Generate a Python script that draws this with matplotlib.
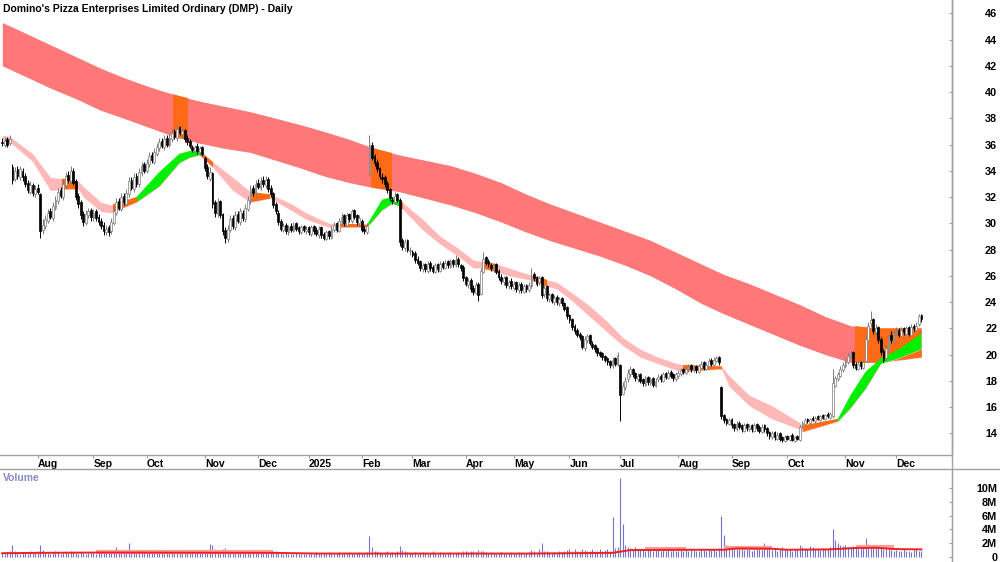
import numpy as np
import pandas as pd
import matplotlib
matplotlib.use("Agg")
import matplotlib.pyplot as plt
from matplotlib.lines import Line2D

plt.rcParams['font.family'] = ['Liberation Sans', 'DejaVu Sans']

TITLE = "Domino's Pizza Enterprises Limited Ordinary (DMP) - Daily"

# =============================================================================
# DATA
# =============================================================================

first_day = "2024-07-12"
last_day = "2025-12-15"
holidays = ["2024-12-25", "2024-12-26", "2025-01-01", "2025-01-27",
            "2025-04-18", "2025-04-21", "2025-04-25", "2025-06-09"]

opens = [
    36.2, 36.0, 36.4, 36.1, 34.3, 33.4, 34.1, 33.5, 34.0, 33.6, 33.1, 32.4, 32.9, 32.2,  # Jul 24
    32.7, 32.2, 29.5, 29.8, 30.2, 30.9, 30.4, 31.2, 31.7, 32.5, 32.0, 32.9, 33.7, 33.2, 34.0, 33.2, 32.1, 31.6, 30.7, 30.0, 30.6, 31.0,  # Aug
    30.4, 30.9, 30.5, 30.2, 29.9, 29.3, 29.7, 29.4, 30.0, 30.8, 31.7, 31.1, 32.1, 31.5, 32.2, 33.3, 32.6, 33.6, 33.0, 33.8, 34.5,  # Sep
    34.0, 34.5, 35.2, 34.7, 35.3, 35.7, 36.3, 35.8, 36.5, 36.0, 36.4, 37.0, 36.5, 37.3, 36.8, 37.1, 36.5, 36.3, 35.8, 35.5, 35.9, 35.4, 35.8,  # Oct
    35.0, 34.3, 33.4, 33.8, 31.6, 30.7, 31.7, 30.7, 29.5, 28.8, 29.5, 30.4, 29.7, 30.7, 30.1, 30.8, 30.3, 31.1, 31.7, 32.7, 32.2,  # Nov
    33.1, 32.7, 33.3, 32.9, 33.4, 32.7, 32.3, 31.5, 30.8, 30.2, 29.5, 29.9, 29.3, 29.8, 29.4, 30.0, 29.7, 29.3, 29.8, 29.4,  # Dec
    29.7, 29.2, 29.8, 29.5, 29.1, 29.7, 29.2, 28.8, 29.4, 28.9, 29.5, 30.0, 29.4, 30.1, 30.6, 29.9, 30.7, 30.2, 31.0, 30.6, 30.0,  # Jan 25
    30.2, 29.6, 29.3, 33.8, 36.0, 35.1, 34.7, 34.2, 33.5, 33.5, 33.1, 32.6, 31.8, 31.6, 32.2, 31.8, 28.7, 28.1, 28.7, 27.9,  # Feb
    27.8, 27.7, 27.3, 27.1, 26.5, 26.9, 26.4, 27.0, 26.7, 26.3, 26.9, 26.4, 27.0, 26.6, 27.1, 26.7, 27.2, 26.8, 27.3, 26.8, 26.7,  # Mar
    25.9, 25.3, 25.7, 25.1, 24.7, 25.4, 24.6, 26.3, 27.4, 27.1, 26.8, 26.5, 26.9, 26.4, 25.9, 25.5, 25.9, 25.2, 25.6,  # Apr
    25.1, 25.5, 24.9, 25.4, 24.8, 25.3, 24.9, 25.2, 26.1, 25.9, 25.5, 25.9, 24.6, 25.2, 24.2, 24.6, 24.0, 24.4, 23.9, 24.3, 23.9, 23.6,  # May
    23.0, 22.7, 22.2, 21.9, 21.6, 21.4, 20.5, 21.1, 21.5, 20.8, 20.7, 20.5, 20.2, 20.1, 19.9, 19.7, 19.5, 19.1, 19.7, 19.2,  # Jun
    19.2, 17.0, 17.5, 18.1, 18.5, 18.9, 18.6, 18.1, 18.5, 18.1, 17.7, 18.3, 17.8, 18.2, 17.6, 18.1, 18.4, 18.0, 18.6, 18.2, 18.7, 18.5, 18.1,  # Jul
    18.4, 18.5, 18.9, 18.6, 18.8, 19.2, 18.8, 19.1, 18.7, 19.0, 19.4, 18.9, 19.1, 19.6, 19.2, 19.5, 19.8, 17.5, 15.4, 15.1, 14.7,  # Aug
    15.1, 14.7, 14.3, 14.8, 14.6, 14.2, 14.7, 14.3, 14.6, 14.2, 14.7, 14.5, 14.1, 14.6, 14.4, 14.1, 13.7, 14.1, 13.6, 14.0, 13.7, 13.4,  # Sep
    13.8, 13.5, 13.9, 13.4, 13.8, 13.5, 14.5, 14.7, 15.1, 14.8, 15.2, 14.9, 15.3, 15.0, 15.4, 15.1, 15.5, 15.2, 15.3, 17.6, 18.1, 18.4, 18.8,  # Oct
    19.1, 19.4, 19.8, 20.2, 19.3, 18.9, 19.4, 19.0, 19.5, 21.1, 22.4, 22.7, 21.7, 22.1, 21.2, 20.3, 19.7, 20.4, 21.5, 21.0,  # Nov
    21.7, 21.9, 21.4, 22.0, 21.6, 22.1, 21.5, 22.2, 21.9, 22.3, 23.0,  # Dec
]

highs = [
    36.5, 36.6, 36.6, 36.7, 34.5, 34.3, 34.4, 34.4, 34.2, 33.8, 33.3, 33.2, 33.1, 32.9,
    33.0, 32.3, 30.3, 30.6, 31.1, 31.2, 31.6, 32.1, 32.7, 32.8, 33.3, 33.9, 34.0, 34.4, 34.2, 33.4, 32.3, 31.8, 30.9, 31.0, 31.2, 31.2,
    31.1, 31.1, 30.7, 30.4, 30.1, 29.9, 29.9, 30.4, 31.2, 31.9, 31.9, 32.3, 32.3, 32.6, 33.5, 33.5, 33.8, 33.8, 34.2, 34.7, 34.7,
    34.9, 35.4, 35.4, 35.7, 36.1, 36.5, 36.5, 36.7, 36.7, 36.8, 37.2, 37.2, 37.5, 37.4, 37.3, 37.2, 36.7, 36.4, 36.0, 36.0, 36.1, 35.9, 35.9,
    35.1, 34.5, 34.3, 33.9, 31.8, 31.9, 31.8, 30.8, 29.7, 29.9, 30.6, 30.6, 30.9, 30.9, 31.2, 31.0, 31.5, 32.1, 32.9, 32.9, 33.3,
    33.4, 33.5, 33.6, 33.6, 33.5, 32.9, 32.4, 31.6, 31.0, 30.3, 30.0, 30.0, 29.9, 30.0, 30.1, 30.1, 29.8, 29.9, 29.9, 29.8,
    29.8, 29.9, 29.9, 29.7, 29.8, 29.8, 29.3, 29.5, 29.5, 29.8, 30.1, 30.1, 30.4, 30.8, 30.7, 30.8, 30.8, 31.1, 31.1, 30.7, 30.6,
    30.3, 29.8, 30.0, 36.7, 36.2, 35.3, 34.9, 34.3, 33.8, 33.7, 33.2, 32.7, 32.0, 32.4, 32.3, 31.9, 28.9, 28.8, 28.8, 28.2,
    28.0, 27.9, 27.5, 27.2, 27.0, 27.0, 27.1, 27.1, 26.8, 27.0, 27.0, 27.1, 27.1, 27.2, 27.2, 27.3, 27.3, 27.6, 27.4, 26.9, 26.8,
    26.0, 25.8, 25.8, 25.3, 25.5, 25.5, 26.6, 27.8, 27.5, 27.3, 27.0, 27.0, 27.0, 26.5, 26.1, 26.0, 26.0, 25.7, 25.8,
    25.6, 25.6, 25.5, 25.5, 25.4, 25.4, 25.5, 26.6, 26.3, 26.0, 26.0, 26.0, 25.3, 25.3, 24.7, 24.7, 24.5, 24.5, 24.4, 24.4, 24.0, 23.7,
    23.1, 22.8, 22.3, 22.0, 21.7, 21.5, 21.4, 21.6, 21.6, 21.0, 20.8, 20.6, 20.3, 20.2, 20.0, 19.8, 19.6, 19.8, 19.8, 20.2,
    19.3, 17.9, 18.3, 18.9, 19.1, 19.0, 18.7, 18.6, 18.6, 18.2, 18.4, 18.4, 18.3, 18.3, 18.2, 18.5, 18.5, 18.7, 18.7, 18.8, 18.8, 18.6, 18.7,
    18.8, 19.0, 19.0, 19.1, 19.3, 19.3, 19.2, 19.2, 19.3, 19.5, 19.5, 19.4, 19.7, 19.7, 19.8, 19.9, 19.9, 17.6, 15.5, 15.2, 15.2,
    15.2, 14.8, 14.9, 14.9, 14.7, 14.8, 14.8, 14.7, 14.7, 14.8, 14.8, 14.6, 14.7, 14.7, 14.5, 14.2, 14.2, 14.2, 14.1, 14.1, 13.8, 13.9,
    13.9, 13.9, 14.0, 13.8, 13.9, 14.6, 14.9, 15.2, 15.2, 15.2, 15.3, 15.3, 15.4, 15.4, 15.5, 15.5, 15.6, 15.6, 18.9, 18.4, 18.7, 19.1, 19.4,
    19.7, 20.1, 20.3, 20.3, 19.4, 19.5, 19.5, 19.6, 21.4, 22.5, 23.3, 22.8, 22.3, 22.2, 21.3, 20.4, 20.7, 21.6, 21.8, 21.9,
    22.1, 22.0, 22.1, 22.1, 22.2, 22.2, 22.3, 22.3, 22.5, 23.1, 23.1,
]

lows = [
    35.9, 35.8, 35.8, 36.0, 33.0, 33.2, 33.4, 33.3, 33.2, 32.8, 32.3, 32.2, 32.1, 32.0,
    32.2, 28.9, 29.2, 29.6, 30.0, 30.3, 30.2, 31.0, 31.5, 31.9, 31.8, 32.7, 33.1, 33.0, 32.9, 31.8, 31.2, 30.3, 29.8, 29.9, 30.4, 30.2,
    30.2, 30.2, 29.9, 29.6, 29.1, 29.1, 29.0, 29.2, 29.9, 30.6, 31.0, 30.9, 31.4, 31.3, 32.0, 32.5, 32.4, 32.8, 32.8, 33.6, 33.8,
    33.8, 34.3, 34.6, 34.5, 35.1, 35.5, 35.7, 35.6, 35.8, 35.8, 36.2, 36.4, 36.3, 36.7, 36.6, 36.2, 36.0, 35.7, 35.4, 35.3, 35.3, 35.2, 35.1,
    34.0, 33.4, 33.2, 31.2, 30.5, 30.5, 30.4, 29.1, 28.5, 28.6, 29.3, 29.6, 29.5, 30.0, 29.9, 30.2, 30.1, 30.9, 31.5, 32.1, 32.0,
    32.6, 32.5, 32.8, 32.7, 32.4, 32.0, 31.2, 30.7, 29.9, 29.4, 29.3, 29.2, 29.1, 29.3, 29.3, 29.4, 29.2, 29.2, 29.3, 29.2,
    29.1, 29.0, 29.2, 29.0, 28.9, 28.9, 28.7, 28.7, 28.8, 28.8, 29.3, 29.3, 29.3, 29.9, 29.8, 29.8, 30.1, 30.0, 30.3, 29.9, 29.8,
    29.3, 29.2, 29.2, 33.6, 34.8, 34.4, 33.9, 33.4, 33.1, 32.8, 32.3, 31.7, 31.5, 31.5, 31.6, 28.3, 28.0, 27.9, 27.8, 27.6,
    27.4, 27.0, 26.8, 26.4, 26.3, 26.3, 26.2, 26.4, 26.2, 26.2, 26.3, 26.3, 26.5, 26.5, 26.6, 26.6, 26.7, 26.7, 26.7, 26.4, 25.6,
    25.2, 25.1, 24.8, 24.5, 24.6, 24.1, 24.5, 26.2, 26.8, 26.7, 26.4, 26.3, 26.1, 25.7, 25.4, 25.3, 25.1, 25.0, 25.0,
    24.9, 24.8, 24.7, 24.7, 24.7, 24.8, 24.8, 25.1, 25.6, 25.2, 25.3, 24.3, 24.4, 24.1, 24.0, 23.9, 23.8, 23.8, 23.7, 23.7, 23.3, 22.7,
    22.4, 21.9, 21.6, 21.3, 21.1, 20.4, 20.3, 20.9, 20.7, 20.4, 20.2, 19.9, 19.8, 19.6, 19.4, 19.2, 19.0, 19.0, 19.1, 19.1,
    14.9, 16.9, 17.3, 17.9, 18.3, 18.3, 18.0, 17.9, 17.8, 17.6, 17.6, 17.7, 17.7, 17.5, 17.5, 17.9, 17.9, 17.9, 18.1, 18.1, 18.2, 18.0, 18.0,
    18.2, 18.4, 18.5, 18.5, 18.7, 18.7, 18.7, 18.6, 18.6, 18.9, 18.8, 18.8, 19.0, 19.1, 19.1, 19.4, 19.2, 15.1, 14.8, 14.6, 14.6,
    14.4, 14.2, 14.2, 14.3, 14.1, 14.1, 14.2, 14.2, 14.1, 14.1, 14.2, 14.0, 14.0, 14.1, 13.8, 13.6, 13.6, 13.5, 13.5, 13.4, 13.3, 13.3,
    13.5, 13.4, 13.4, 13.3, 13.5, 13.4, 14.4, 14.6, 14.8, 14.7, 14.9, 14.8, 15.0, 14.9, 15.1, 15.0, 15.2, 15.1, 15.2, 17.5, 18.0, 18.3, 18.7,
    19.0, 19.3, 19.7, 19.0, 18.8, 18.8, 18.9, 18.9, 19.4, 21.0, 22.1, 21.6, 21.5, 20.9, 20.0, 19.4, 19.6, 20.3, 20.9, 20.9,
    21.5, 21.3, 21.3, 21.5, 21.5, 21.4, 21.4, 21.8, 21.8, 22.2, 22.5,
]

closes = [
    36.1, 36.3, 36.0, 36.4, 33.3, 34.0, 33.6, 34.1, 33.5, 33.0, 32.5, 32.9, 32.3, 32.6,
    32.4, 29.4, 29.9, 30.3, 30.8, 30.5, 31.3, 31.8, 32.4, 32.1, 33.0, 33.6, 33.3, 34.0, 33.1, 32.0, 31.5, 30.6, 30.1, 30.7, 30.9, 30.5,
    30.8, 30.4, 30.1, 29.8, 29.4, 29.6, 29.3, 30.1, 30.9, 31.6, 31.2, 32.0, 31.6, 32.3, 33.2, 32.7, 33.5, 33.0, 33.9, 34.4, 34.0,
    34.6, 35.1, 34.8, 35.4, 35.8, 36.2, 35.9, 36.4, 36.0, 36.5, 36.9, 36.6, 37.2, 36.9, 37.0, 36.4, 36.2, 35.9, 35.6, 35.8, 35.5, 35.7, 35.3,
    34.2, 33.6, 33.9, 31.5, 30.8, 31.6, 30.6, 29.4, 28.9, 29.6, 30.3, 29.8, 30.6, 30.2, 30.9, 30.4, 31.2, 31.8, 32.6, 32.3, 33.0,
    32.8, 33.2, 33.0, 33.3, 32.6, 32.2, 31.4, 30.9, 30.1, 29.6, 29.8, 29.4, 29.7, 29.5, 29.9, 29.6, 29.4, 29.7, 29.5, 29.6,
    29.3, 29.7, 29.4, 29.2, 29.6, 29.1, 28.9, 29.3, 29.0, 29.6, 29.9, 29.5, 30.2, 30.5, 30.0, 30.6, 30.3, 30.9, 30.5, 30.1, 30.4,
    29.5, 29.4, 29.8, 36.0, 35.0, 34.6, 34.1, 33.6, 33.4, 33.0, 32.5, 31.9, 31.7, 32.1, 31.8, 28.6, 28.2, 28.6, 28.0, 27.9,
    27.6, 27.2, 27.0, 26.6, 26.8, 26.5, 26.9, 26.6, 26.4, 26.8, 26.5, 26.9, 26.7, 27.0, 26.8, 27.1, 26.9, 27.2, 26.9, 26.6, 25.8,
    25.4, 25.6, 25.0, 24.8, 25.3, 24.5, 26.4, 27.3, 27.0, 26.9, 26.6, 26.8, 26.3, 25.9, 25.6, 25.8, 25.3, 25.5, 25.2,
    25.4, 25.0, 25.3, 24.9, 25.2, 25.0, 25.3, 26.0, 25.8, 25.4, 25.8, 24.5, 25.1, 24.3, 24.5, 24.1, 24.3, 24.0, 24.2, 23.9, 23.5, 22.9,
    22.6, 22.1, 21.8, 21.5, 21.3, 20.6, 21.2, 21.4, 20.9, 20.6, 20.4, 20.1, 20.0, 19.8, 19.6, 19.4, 19.2, 19.6, 19.3, 20.0,
    16.9, 17.6, 18.0, 18.6, 18.9, 18.5, 18.2, 18.4, 18.0, 17.8, 18.2, 17.9, 18.1, 17.7, 18.0, 18.3, 18.1, 18.5, 18.3, 18.6, 18.4, 18.2, 18.5,
    18.6, 18.8, 18.7, 18.9, 19.1, 18.9, 19.0, 18.8, 19.1, 19.3, 19.0, 19.2, 19.5, 19.3, 19.6, 19.7, 19.4, 15.3, 15.0, 14.8, 15.0,
    14.6, 14.4, 14.7, 14.5, 14.3, 14.6, 14.4, 14.5, 14.3, 14.6, 14.4, 14.2, 14.5, 14.3, 14.0, 13.8, 14.0, 13.7, 13.9, 13.6, 13.5, 13.7,
    13.6, 13.8, 13.5, 13.7, 13.6, 14.5, 14.8, 15.0, 14.9, 15.1, 15.0, 15.2, 15.1, 15.3, 15.2, 15.4, 15.3, 15.5, 17.8, 18.2, 18.5, 18.9, 19.2,
    19.5, 19.9, 20.1, 19.2, 19.0, 19.3, 19.1, 19.4, 21.2, 22.2, 22.6, 21.8, 22.0, 21.1, 20.2, 19.6, 20.5, 21.4, 21.1, 21.6,
    21.8, 21.5, 21.9, 21.7, 22.0, 21.6, 22.1, 22.0, 22.2, 22.9, 22.7,
]

# volume in millions of shares
volumes = [
    0.6, 0.5, 0.7, 0.8, 1.7, 0.9, 0.6, 0.5, 0.7, 0.6, 0.5, 0.8, 0.6, 0.7,
    0.9, 1.7, 1.0, 0.7, 0.6, 0.5, 0.6, 0.8, 0.7, 0.5, 0.6, 0.7, 0.6, 0.8, 0.7, 0.6, 0.5, 0.7, 0.6, 0.5, 0.6, 0.7,
    0.6, 0.5, 0.7, 0.6, 0.8, 0.6, 0.7, 0.9, 0.8, 1.4, 0.7, 0.6, 0.8, 0.7, 2.1, 0.9, 0.8, 0.6, 0.7, 0.9, 0.8,
    0.7, 0.8, 0.6, 0.7, 0.9, 0.8, 0.6, 0.7, 0.8, 0.6, 0.7, 0.9, 1.0, 0.8, 0.7, 0.6, 0.7, 0.8, 0.6, 0.7, 0.6, 0.8, 0.7,
    0.9, 1.0, 1.9, 1.8, 1.2, 0.9, 1.0, 1.1, 1.3, 0.8, 0.7, 0.6, 0.8, 0.7, 0.6, 0.7, 0.8, 0.7, 0.9, 0.6, 0.7,
    0.7, 0.6, 0.8, 0.7, 0.6, 0.7, 0.9, 0.8, 0.7, 0.6, 0.5, 0.6, 0.5, 0.4, 0.5, 0.6, 0.4, 0.5, 0.4, 0.5,
    0.5, 0.6, 0.5, 0.7, 0.6, 0.5, 0.6, 0.5, 0.7, 0.6, 0.5, 0.6, 0.7, 0.5, 0.6, 0.5, 0.7, 0.6, 0.5, 0.6, 0.7,
    0.6, 0.5, 0.7, 3.1, 1.4, 0.9, 0.8, 0.7, 0.6, 0.7, 0.8, 0.6, 0.7, 0.6, 0.8, 1.6, 1.0, 0.8, 0.7, 0.6,
    0.6, 0.7, 0.5, 0.6, 0.7, 0.6, 0.5, 0.6, 0.8, 0.6, 0.5, 0.7, 0.6, 0.5, 0.6, 0.7, 0.5, 0.6, 0.7, 0.6, 0.8,
    0.8, 0.7, 0.9, 0.8, 0.7, 1.0, 0.9, 0.8, 0.7, 0.6, 0.7, 0.6, 0.5, 0.6, 0.7, 0.6, 0.5, 0.6, 0.7,
    0.6, 0.5, 0.7, 0.6, 0.5, 0.6, 0.7, 1.0, 0.8, 0.7, 1.1, 2.0, 0.9, 0.8, 0.7, 0.6, 0.7, 0.6, 0.8, 0.7, 0.9, 1.0,
    1.1, 0.9, 1.2, 0.8, 0.9, 1.2, 1.0, 0.8, 0.9, 1.1, 0.8, 0.9, 1.2, 0.9, 1.0, 1.1, 0.9, 5.8, 1.3, 1.4,
    11.5, 4.8, 1.7, 1.5, 1.3, 1.2, 1.4, 1.1, 1.0, 1.2, 0.9, 1.1, 1.0, 0.9, 1.2, 1.0, 0.9, 1.1, 0.8, 1.0, 0.9, 1.1, 0.8,
    0.9, 1.0, 0.8, 1.1, 0.9, 1.2, 1.0, 0.8, 0.9, 1.1, 1.0, 0.9, 1.2, 1.0, 1.1, 0.9, 1.3, 5.9, 3.2, 1.8, 1.6,
    1.4, 1.5, 1.2, 1.1, 1.3, 1.0, 1.2, 1.1, 0.9, 1.0, 1.2, 1.1, 1.0, 2.0, 1.3, 1.2, 1.0, 1.1, 0.9, 1.2, 1.4, 1.1,
    1.0, 1.2, 0.9, 1.1, 1.0, 1.8, 1.4, 1.2, 1.1, 1.6, 1.5, 1.2, 1.1, 1.0, 1.3, 1.2, 1.1, 1.4, 4.1, 2.4, 2.1, 1.8, 1.6,
    1.7, 1.5, 1.4, 1.6, 1.3, 1.2, 1.4, 1.3, 2.8, 1.9, 1.7, 1.5, 1.3, 1.4, 1.6, 1.2, 1.1, 1.3, 1.0, 0.9,
    1.0, 0.8, 0.9, 1.1, 0.8, 0.9, 0.7, 1.0, 1.2, 0.9, 0.8,
]

# volume average line (bar index, millions)
vol_avg_idx = [0, 14, 40, 107, 125, 208, 241, 248, 268, 285, 290, 304, 310, 326, 337, 345, 352, 363]
vol_avg_val = [0.55, 0.6, 0.65, 0.6, 0.5, 0.5, 0.6, 1.0, 1.05, 1.05, 1.25, 1.2, 1.05, 1.1, 1.3, 1.35, 1.15, 1.1]
vol_hi_start = [37, 254, 285, 337]
vol_hi_end = [107, 270, 304, 352]
vol_hi_val = [0.75, 1.15, 1.35, 1.45]

# long-term ribbon (bar index, upper, lower)
long_idx = [0, 9, 19, 29, 39, 48, 58, 68, 78, 88, 98, 108, 118, 127, 137, 147, 157, 167, 177, 187,
            197, 206, 216, 226, 236, 246, 256, 266, 276, 285, 295, 305, 315, 325, 335, 345, 355, 363]
long_top = [45.3, 44.5, 43.6, 42.7, 41.8, 41.1, 40.4, 39.8, 39.3, 38.9, 38.5, 38.0, 37.5, 37.0, 36.4, 35.7,
            35.2, 34.8, 34.4, 33.8, 33.1, 32.3, 31.5, 30.8, 30.1, 29.4, 28.7, 27.8, 26.9, 26.1, 25.4, 24.6,
            23.8, 22.9, 22.2, 22.0, 22.0, 22.0]
long_bot = [42.0, 41.2, 40.3, 39.5, 38.6, 38.0, 37.3, 36.6, 36.1, 35.7, 35.4, 34.8, 34.2, 33.6, 33.1, 32.7,
            32.4, 31.9, 31.4, 30.8, 30.1, 29.4, 28.7, 28.1, 27.5, 26.8, 26.0, 25.0, 23.9, 23.1, 22.3, 21.5,
            20.7, 20.0, 19.4, 19.4, 19.6, 19.8]
long_hot_start = [67.4, 145.6, 336.8]
long_hot_end = [73.3, 153.9, 363.6]

# short-term ribbon
short_idx = [0, 3, 12, 19, 24, 30, 32, 39, 43, 53, 62, 70, 74, 78, 83, 91, 98, 106, 114, 120, 129, 132,
             144, 146, 150, 154, 157, 158, 166, 173, 180, 186, 189, 195, 200, 208, 210, 215, 219, 225,
             232, 239, 245, 252, 259, 265, 269, 284, 287, 295, 304, 315, 316, 330, 335, 341, 347, 354, 363]
short_top = [36.7, 36.6, 35.3, 33.5, 33.4, 33.2, 32.8, 31.6, 31.4, 32.0, 33.9, 35.3, 35.5, 35.5, 34.7, 33.5,
             32.4, 32.2, 31.5, 30.8, 30.0, 30.0, 29.9, 30.5, 31.8, 32.0, 31.8, 31.6, 30.3, 29.0, 28.1, 27.2,
             27.1, 26.9, 26.6, 26.1, 26.0, 25.7, 25.5, 24.7, 23.7, 22.5, 21.3, 20.4, 19.8, 19.4, 19.2, 19.1,
             18.4, 16.9, 16.1, 14.8, 14.6, 15.1, 16.9, 18.7, 19.7, 20.4, 21.6]
short_bot = [36.3, 36.2, 34.7, 32.5, 32.6, 32.6, 32.0, 30.9, 30.8, 31.6, 32.8, 34.6, 35.0, 35.2, 34.3, 32.5,
             31.6, 31.9, 31.0, 30.3, 29.7, 29.7, 29.7, 30.1, 31.0, 31.5, 31.3, 31.1, 29.5, 28.4, 27.5, 26.6,
             26.6, 26.3, 26.0, 25.7, 25.6, 25.2, 25.0, 24.1, 22.9, 21.7, 20.7, 19.8, 19.3, 18.9, 18.7, 18.9,
             17.6, 16.1, 15.1, 14.3, 14.1, 14.9, 15.9, 17.4, 19.3, 19.7, 20.4]
short_orange_start = [23.6, 43.7, 78.1, 97.8, 132.2, 157.1, 189.4, 209.6, 268.8, 316.2]
short_orange_end = [29.5, 53.2, 83.2, 105.7, 144.0, 158.3, 195.4, 215.1, 284.2, 329.7]
short_green_start = [53.2, 144.0, 329.7]
short_green_end = [78.1, 157.1, 363.6]

price_ticks = list(range(14, 47, 2))
vol_ticks = [0, 2, 4, 6, 8, 10]

# =============================================================================
# STYLE
# =============================================================================

RED_BAND = '#FF7878'
PINK_BAND = '#FFB8B8'
ORANGE = '#FF6A14'
GREEN = '#00EE00'
FRAME = '#A0A0A0'
VOL_BAR = '#7474C8'

W, H = 1000, 562
RIGHT = 952
PRICE_BOTTOM = 455
VOL_TOP = 469
VOL_ZERO_PX = 557
VOL_PX_PER_M = 6.9
PX_PER_BAR = 2.532
FIRST_BAR_PX = 2.3


def trading_days():
    days = pd.bdate_range(first_day, last_day)
    return days[~days.isin(pd.to_datetime(holidays))]


def draw_ribbon(ax, idx, top, bot, base_color, spans, z):
    poly = ax.fill_between(idx, bot, top, color=base_color, lw=0, zorder=z)
    path = poly.get_paths()[0]
    for color, starts, ends in spans:
        for s, e in zip(starts, ends):
            r = ax.axvspan(s, e, color=color, lw=0, zorder=z + 0.1)
            r.set_clip_path(path, ax.transData)


def style_right_ticks(ax, pad):
    ax.yaxis.tick_right()
    ax.tick_params(axis='y', direction='in', length=2.5, color=FRAME,
                   labelsize=7.8, pad=pad)
    for t in ax.yaxis.get_major_ticks():
        t.label2.set_horizontalalignment('right')
        t.label2.set_fontweight('bold')


def main():
    days = trading_days()
    n = len(days)
    assert n == len(closes) == len(opens) == len(highs) == len(lows) == len(volumes), \
        (n, len(opens), len(highs), len(lows), len(closes), len(volumes))

    o = np.array(opens)
    h = np.array(highs)
    l = np.array(lows)
    c = np.array(closes)
    x = np.arange(n)

    months = days.to_period("M")
    tick_pos = [i for i in range(1, n) if months[i] != months[i - 1]]
    tick_lab = ["2025" if days[i].month == 1 else days[i].strftime("%b") for i in tick_pos]

    fig = plt.figure(figsize=(W / 100, H / 100), dpi=100)
    ax = fig.add_axes([0, 1 - PRICE_BOTTOM / H, RIGHT / W, PRICE_BOTTOM / H])
    axv = fig.add_axes([0, 0, RIGHT / W, (H - VOL_TOP) / H])

    xlim = (-FIRST_BAR_PX / PX_PER_BAR, (RIGHT - FIRST_BAR_PX) / PX_PER_BAR)

    # ribbons
    draw_ribbon(ax, long_idx, long_top, long_bot, RED_BAND,
                [(ORANGE, long_hot_start, long_hot_end)], 1)
    draw_ribbon(ax, short_idx, short_top, short_bot, PINK_BAND,
                [(ORANGE, short_orange_start, short_orange_end),
                 (GREEN, short_green_start, short_green_end)], 2)

    # candles
    up = c >= o
    wick_col = np.where(up, '#7a7a7a', '#000000')
    ax.vlines(x, l, h, colors=wick_col, lw=0.7, zorder=3)
    body_lo = np.minimum(o, c)
    body_h = np.maximum(np.abs(c - o), 0.04)
    ax.bar(x, body_h, bottom=body_lo, width=0.72,
           color=np.where(up, '#ffffff', '#000000'),
           edgecolor=np.where(up, '#7a7a7a', '#000000'), lw=0.5, zorder=4)

    ax.set_xlim(*xlim)
    ax.set_ylim(46 - (PRICE_BOTTOM - 13.3) / 13.125, 46 + 13.3 / 13.125)

    for side in ['left', 'top']:
        ax.spines[side].set_visible(False)
    for side in ['right', 'bottom']:
        ax.spines[side].set_color(FRAME)
        ax.spines[side].set_linewidth(1.0)

    ax.set_yticks(price_ticks)
    ax.set_yticklabels([str(v) for v in price_ticks])
    style_right_ticks(ax, 32.5)

    ax.set_xticks(tick_pos)
    ax.set_xticklabels(tick_lab)
    ax.tick_params(axis='x', direction='out', length=2.5, color=FRAME,
                   labelsize=7.5, pad=0.5)
    for t in ax.xaxis.get_major_ticks():
        t.label1.set_horizontalalignment('left')
        t.label1.set_fontweight('bold')

    # volume
    v = np.array(volumes)
    axv.vlines(x, 0, v, colors=VOL_BAR, lw=0.8, zorder=2)
    axv.hlines(vol_hi_val, vol_hi_start, vol_hi_end, colors='#FF9C9C', lw=3.0, zorder=3)
    axv.plot(vol_avg_idx, vol_avg_val, color='#F02020', lw=1.4, zorder=4)
    axv.set_xlim(*xlim)
    axv.set_ylim(-(H - VOL_ZERO_PX) / VOL_PX_PER_M, (VOL_ZERO_PX - VOL_TOP) / VOL_PX_PER_M)
    for side in ['left', 'bottom', 'top']:
        axv.spines[side].set_visible(False)
    axv.spines['right'].set_color(FRAME)
    axv.set_xticks([])
    axv.set_yticks(vol_ticks)
    axv.set_yticklabels(["0" if t == 0 else f"{t}M" for t in vol_ticks])
    style_right_ticks(axv, 32.5)

    # frame lines of the date strip
    fig.add_artist(Line2D([0, 1], [1 - VOL_TOP / H] * 2, color=FRAME, lw=1.0))
    fig.add_artist(Line2D([RIGHT / W] * 2, [0, 1], color=FRAME, lw=1.0))

    fig.text(3 / W, 1 - 9 / H, TITLE, fontsize=7.5, fontweight='bold', va='center', ha='left')
    fig.text(3 / W, 1 - 478 / H, "Volume", fontsize=7.5, fontweight='bold',
             color='#8A8AC8', va='center', ha='left')

    fig.savefig("out.png", dpi=100, facecolor='white')
    plt.close(fig)


if __name__ == "__main__":
    main()
